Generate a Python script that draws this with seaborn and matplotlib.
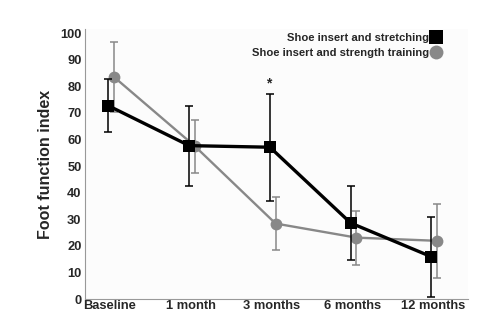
import numpy as np
import pandas as pd
import matplotlib
matplotlib.use("Agg")
import matplotlib.pyplot as plt
from matplotlib.lines import Line2D
import seaborn as sns

# Follow-up time points
timepoints = ["Baseline", "1 month", "3 months", "6 months", "12 months"]

# Group means and standard deviations of the foot function index
stretch_mean = [72.7, 57.7, 57.1, 28.6, 15.9]
stretch_sd = [10.0, 15.0, 20.2, 14.0, 15.0]
strength_mean = [83.5, 57.5, 28.4, 23.1, 21.9]
strength_sd = [13.0, 10.0, 10.0, 10.2, 14.0]

group_names = ["Shoe insert and stretching", "Shoe insert and strength training"]

sns.set_style("white")
plt.rcParams["font.family"] = ["Liberation Sans", "DejaVu Sans"]
plt.rcParams["font.weight"] = "bold"

x = np.arange(len(timepoints))
df = pd.concat([
    pd.DataFrame({"t": x - 0.02, "ffi": stretch_mean, "sd": stretch_sd, "group": group_names[0]}),
    pd.DataFrame({"t": x + 0.05, "ffi": strength_mean, "sd": strength_sd, "group": group_names[1]}),
])

fig = plt.figure(figsize=(4.94, 3.24), dpi=100)
ax = fig.add_axes([0.172, 0.077, 0.775, 0.833])
ax.set_facecolor("#fcfcfc")

colors = {group_names[0]: "#000000", group_names[1]: "#888888"}
markers = {group_names[0]: "s", group_names[1]: "o"}
widths = {group_names[0]: 2.4, group_names[1]: 1.7}
msizes = {group_names[0]: 9, group_names[1]: 8.5}

for g, z in [(group_names[1], 2), (group_names[0], 3)]:
    sub = df[df["group"] == g]
    ax.errorbar(sub["t"], sub["ffi"], yerr=sub["sd"], fmt="none",
                ecolor=colors[g], elinewidth=1.1, capsize=3, capthick=1.1, zorder=z)
    sns.lineplot(data=sub, x="t", y="ffi", ax=ax, color=colors[g],
                 linewidth=widths[g], marker=markers[g], markersize=msizes[g],
                 markeredgewidth=0, zorder=z, legend=False)

# significance marker at 3 months
ax.text(x[2] - 0.03, stretch_mean[2] + stretch_sd[2] + 1.0, "*", ha="center",
        va="bottom", fontsize=10, fontweight="bold")

ax.set_xlim(-0.31, 4.43)
ax.set_ylim(0, 101.5)
ax.set_xticks(x)
ax.set_xticklabels(timepoints, fontsize=9.3, fontweight="bold")
ax.set_yticks(np.arange(0, 101, 10))
ax.set_yticklabels([str(v) for v in range(0, 101, 10)], fontsize=9.3, fontweight="bold")
ax.set_xlabel("")
ax.set_ylabel("Foot function index", fontsize=11.5, fontweight="bold", labelpad=5)

for side in ["top", "right"]:
    ax.spines[side].set_visible(False)
for side in ["left", "bottom"]:
    ax.spines[side].set_color("#999999")
    ax.spines[side].set_linewidth(0.8)
ax.tick_params(axis="y", direction="out", length=2, color="#999999", pad=0.5)
ax.tick_params(axis="x", direction="in", length=3, color="#999999", pad=1)

handles = [Line2D([], [], linestyle="none", marker=markers[g], color=colors[g],
                  markersize=10, markeredgewidth=0) for g in group_names]
leg = fig.legend(handles, group_names, loc="upper right",
                 bbox_to_anchor=(440 / 494, 1 - 33 / 324), bbox_transform=fig.transFigure,
                 frameon=False, markerfirst=False, handlelength=0.7, handletextpad=0.3,
                 labelspacing=0.4, borderpad=0, borderaxespad=0,
                 prop={"size": 8.1, "weight": "bold"})

fig.savefig("out.png", dpi=100)
